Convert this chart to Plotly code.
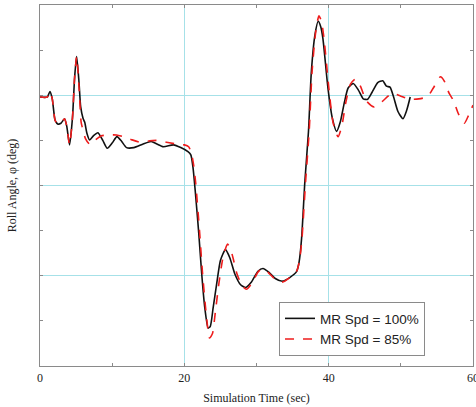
import plotly.graph_objects as go

# Roll response, main rotor speed 100 %
t_100 = [0, 1.0, 1.38, 1.7, 2.1, 2.5, 2.9, 3.4, 3.7, 4.1, 4.5, 4.8, 5.08, 5.4, 5.64,
         5.96, 6.2, 6.5, 6.88, 7.4, 8.03, 8.7, 9.32, 10.0, 10.66, 11.3, 12.0, 13.0,
         14.3, 15.4, 16.2, 17.1, 18.5, 19.5, 20.5, 20.9, 21.2, 21.5, 22.0, 22.4,
         22.8, 23.3, 23.6, 24.0, 24.5, 25.0, 25.7, 26.3, 27.0, 27.8, 28.5, 29.3,
         30.2, 30.9, 31.7, 32.6, 33.6, 34.6, 35.55, 35.9, 36.25, 36.7, 37.2, 37.6,
         38.1, 38.55, 38.9, 39.2, 39.9, 40.5, 41.1, 41.6, 42.2, 42.7, 43.4, 44.1,
         44.8, 45.4, 46.0, 46.8, 47.5, 48.0, 48.5, 49.0, 49.6, 50.3, 50.8, 51.3]
roll_100 = [9.8, 9.8, 10.4, 9.6, 7.2, 6.8, 6.9, 7.4, 6.6, 4.5, 7.5, 12.0, 14.3, 11.5, 8.7,
            7.45, 7.0, 5.8, 5.04, 5.5, 5.85, 5.0, 4.12, 4.7, 5.41, 4.9, 4.2, 4.2,
            4.6, 4.87, 4.6, 4.3, 4.5, 4.2, 3.75, 3.4, 2.0, -0.5, -5.3, -9.7,
            -13.3, -15.8, -15.6, -13.5, -10.8, -8.3, -7.1, -8.0, -9.8, -11.0, -11.3, -10.7,
            -9.5, -9.2, -9.6, -10.3, -10.6, -10.2, -9.55, -8.5, -5.85, 0.42, 5.96, 12.6,
            16.7, 18.2, 17.6, 16.3, 10.8, 7.5, 6.0, 7.0, 9.3, 10.8, 11.3, 10.6,
            9.6, 9.55, 10.3, 11.4, 11.6, 11.0, 10.9, 9.8, 8.2, 7.4, 8.3, 9.8]

# Roll response, main rotor speed 85 %
t_85 = [0, 1.0, 1.38, 1.7, 2.1, 2.5, 2.9, 3.4, 3.7, 4.1, 4.5, 4.8, 5.08, 5.4, 5.7,
        5.86, 6.3, 6.9, 7.6, 8.5, 9.5, 10.6, 11.6, 12.6, 14.1, 15.2, 16.5, 17.5,
        18.9, 20.0, 20.6, 21.0, 21.3, 21.57, 22.1, 22.5, 23.0, 23.5, 23.9, 24.3,
        24.8, 25.4, 26.0, 26.6, 27.3, 28.0, 28.6, 29.4, 30.2, 30.9, 31.7, 32.6,
        33.6, 34.6, 35.55, 35.95, 36.3, 36.8, 37.3, 37.7, 38.2, 38.65, 39.0, 39.35,
        40.0, 40.6, 41.3, 41.8, 42.4, 43.0, 43.7, 44.4, 45.2, 46.3, 47.4, 48.8,
        50.0, 51.4, 52.5, 53.7, 54.5, 55.5, 56.0, 56.7, 57.3, 58.0, 58.8, 59.4, 60.0]
roll_85 = [9.8, 9.8, 10.4, 9.6, 7.2, 6.8, 6.9, 7.4, 6.6, 4.5, 7.5, 12.0, 14.3, 11.0, 7.0,
           6.45, 5.2, 4.56, 5.0, 5.5, 5.6, 5.6, 5.4, 5.1, 4.75, 4.95, 5.0, 4.8,
           4.6, 4.5, 4.3, 3.5, 2.2, 0.3, -5.0, -9.5, -14.0, -16.9, -16.4, -14.0,
           -10.8, -7.8, -6.5, -7.6, -9.8, -11.1, -11.5, -10.8, -9.6, -9.2, -9.7, -10.4,
           -10.7, -10.2, -9.5, -8.4, -5.9, 0.4, 6.0, 12.6, 17.0, 18.8, 18.2, 16.3,
           11.0, 7.0, 5.4, 6.5, 9.3, 11.2, 11.8, 11.0, 9.4, 8.7, 9.3, 10.2,
           9.9, 9.55, 9.6, 9.85, 10.8, 12.05, 11.6, 10.2, 9.4, 7.9, 6.9, 7.8, 8.9]

series_names = ["MR Spd = 100%", "MR Spd = 85%"]
x_ticks = [0, 20, 40, 60]
x_tick_labels = ["0", "20", "40", "60"]

SERIF = "Liberation Serif, Times New Roman, serif"
SANS = "Liberation Sans, Arial, sans-serif"
GRID = "#a6e1e8"
FRAME = "#8a8a8a"

fig = go.Figure()
fig.add_trace(go.Scatter(
    x=t_100, y=roll_100, mode="lines", name=series_names[0],
    line=dict(color="#111111", width=1.6, shape="spline", smoothing=0.6),
))
fig.add_trace(go.Scatter(
    x=t_85, y=roll_85, mode="lines", name=series_names[1],
    line=dict(color="#ee1c1c", width=1.6, dash="dash", shape="spline", smoothing=0.6),
))

fig.update_layout(
    width=476, height=407,
    margin=dict(l=40, r=3, t=5, b=41, autoexpand=False),
    paper_bgcolor="white", plot_bgcolor="white",
    showlegend=True,
    legend=dict(
        x=0.552, y=0.177, xanchor="left", yanchor="top",
        bgcolor="white", bordercolor=FRAME, borderwidth=1,
        font=dict(family=SANS, size=13.5, color="#222222"),
        tracegroupgap=0, itemwidth=30,
    ),
    xaxis=dict(
        range=[0, 60], tickmode="array", tickvals=x_ticks, ticktext=x_tick_labels,
        ticklabeloverflow="allow", automargin=False,
        showgrid=True, gridcolor=GRID, gridwidth=1,
        zeroline=False,
        showline=True, linecolor=FRAME, linewidth=1.2, mirror="ticks",
        ticks="inside", ticklen=3, tickcolor=FRAME,
        minor=dict(tickmode="linear", tick0=0, dtick=10, ticks="inside", ticklen=3,
                   tickcolor=FRAME, showgrid=False),
        tickfont=dict(family=SERIF, size=12, color="#222222"),
        title=dict(text="Simulation Time (sec)", font=dict(family=SERIF, size=12, color="#222222"),
                   standoff=10),
    ),
    yaxis=dict(
        range=[-20, 20], dtick=10, tick0=0, automargin=False,
        showgrid=True, gridcolor=GRID, gridwidth=1,
        zeroline=False,
        showline=True, linecolor=FRAME, linewidth=1.2, mirror="ticks",
        ticks="inside", ticklen=3, tickcolor=FRAME,
        minor=dict(dtick=5, ticks="inside", ticklen=3, tickcolor=FRAME, showgrid=False),
        showticklabels=False,
        title=dict(text="Roll Angle, \u03c6 (deg)", font=dict(family=SERIF, size=12, color="#222222"),
                   standoff=19),
    ),
)

fig.write_html("out.html")
